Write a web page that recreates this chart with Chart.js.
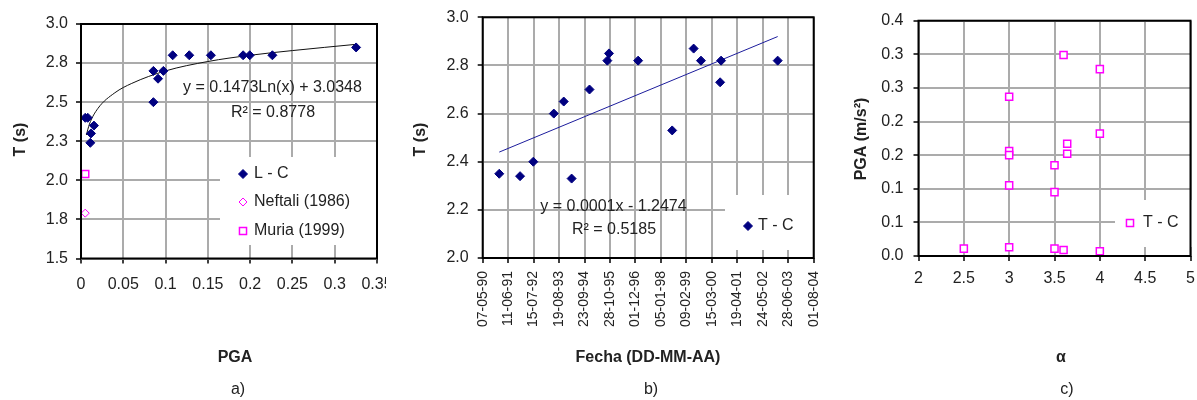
<!DOCTYPE html>
<html>
<head>
<meta charset="utf-8">
<script src="https://cdn.jsdelivr.net/npm/chart.js@4.4.1/dist/chart.umd.min.js"></script>
<style>
  html, body { margin: 0; padding: 0; background: #fff; }
  body { width: 1197px; height: 400px; position: relative; overflow: hidden; }
  canvas { position: absolute; top: 0; }
</style>
</head>
<body>
<canvas id="chartA" width="386" height="400" style="left:0"></canvas>
<canvas id="chartB" width="430" height="400" style="left:390px"></canvas>
<canvas id="chartC" width="377" height="400" style="left:820px"></canvas>
<script>
// a) T vs PGA
const pgaLC = [0.005, 0.008, 0.0153, 0.0118, 0.011, 0.0856, 0.0911, 0.0974, 0.0856, 0.1084, 0.128, 0.1536, 0.1917, 0.1995, 0.2263, 0.3253];
const tLC   = [2.40, 2.40, 2.35, 2.30, 2.24, 2.70, 2.65, 2.70, 2.50, 2.80, 2.80, 2.80, 2.80, 2.80, 2.80, 2.85];
const pgaNeftali = [0.005];
const tNeftali   = [1.79];
const pgaMuria = [0.005];
const tMuria   = [2.04];
// log trend line
const fitPga = [0.0063, 0.01, 0.02, 0.04, 0.06, 0.1, 0.15, 0.2, 0.25, 0.3253];
const fitT   = [2.29, 2.36, 2.46, 2.56, 2.62, 2.70, 2.76, 2.80, 2.83, 2.87];

// b) T vs fecha
const fechas = ['1991-01-22', '1991-12-15', '1992-07-10', '1993-05-28', '1993-10-31', '1994-03-04', '1994-12-10', '1995-09-16',
                '1995-10-12', '1997-01-12', '1998-07-01', '1999-06-03', '1999-09-26', '2000-07-23', '2000-08-07', '2003-01-13'];
const tTC    = [2.35, 2.34, 2.40, 2.60, 2.65, 2.33, 2.70, 2.82, 2.85, 2.82, 2.53, 2.87, 2.82, 2.73, 2.82, 2.82];
const trendFechas = ['1991-01-22', '2003-01-13'];
const trendT      = [2.44, 2.92];
const fechaMin = '1990-05-07', fechaMax = '2004-08-01';

// c) PGA vs alfa
const alfa  = [2.5, 3.0, 3.0, 3.0, 3.0, 3.0, 3.5, 3.5, 3.5, 3.6, 3.6, 3.64, 3.64, 4.0, 4.0, 4.0];
const pgaTC = [0.011, 0.237, 0.156, 0.150, 0.105, 0.013, 0.135, 0.095, 0.011, 0.299, 0.009, 0.167, 0.152, 0.278, 0.182, 0.007];

const navy = '#000080', magenta = '#ff00ff', ink = '#222';
const fam = 'Arial, "Liberation Sans", sans-serif';

const xy = (xs, ys) => xs.map((x, i) => ({x: x, y: ys[i]}));
const day = s => Date.UTC(+s.slice(0, 4), +s.slice(5, 7) - 1, +s.slice(8, 10)) / 864e5;
const pad2 = n => String(n).padStart(2, '0');
const fmtDay = v => { const d = new Date(v * 864e5); return pad2(d.getUTCDate()) + '-' + pad2(d.getUTCMonth() + 1) + '-' + pad2(d.getUTCFullYear() % 100); };
const oneDec = v => (Math.round(v * 10 + 1e-9) / 10).toFixed(1);

function marker(ctx, style, x, y, r, fill, stroke, lw) {
  ctx.beginPath();
  if (style === 'rectRot') {
    ctx.moveTo(x, y - r); ctx.lineTo(x + r, y); ctx.lineTo(x, y + r); ctx.lineTo(x - r, y); ctx.closePath();
  } else {
    const h = r * Math.SQRT1_2;
    ctx.rect(x - h, y - h, 2 * h, 2 * h);
  }
  ctx.fillStyle = fill; ctx.fill();
  ctx.lineWidth = lw; ctx.strokeStyle = stroke; ctx.stroke();
}

// legend box, frame and free texts (coordinates are page coordinates)
function extras(cfg) {
  return {
    id: 'extras',
    beforeDatasetsDraw(chart) {
      const ctx = chart.ctx, lg = cfg.legend, ox = cfg.ox;
      ctx.save();
      ctx.fillStyle = '#fff';
      ctx.fillRect(lg.x - ox, lg.y, lg.w, lg.h);
      ctx.font = '16px ' + fam;
      ctx.textBaseline = 'middle'; ctx.textAlign = 'left';
      lg.rows.forEach((ry, i) => {
        const ds = chart.data.datasets[i];
        marker(ctx, ds.pointStyle, lg.mx - ox, ry, ds.pointRadius, ds.backgroundColor, ds.borderColor, ds.borderWidth);
        ctx.fillStyle = ink;
        ctx.fillText(ds.label, lg.tx - ox, ry);
      });
      ctx.restore();
    },
    afterDraw(chart) {
      const ctx = chart.ctx, a = chart.chartArea, ox = cfg.ox;
      ctx.save();
      ctx.strokeStyle = '#000'; ctx.lineWidth = 2;
      ctx.strokeRect(a.left, a.top, a.right - a.left, a.bottom - a.top);
      cfg.texts.forEach(t => {
        ctx.save();
        ctx.translate(t.x - ox, t.y);
        if (t.rot) ctx.rotate(-Math.PI / 2);
        ctx.font = (t.bold ? 'bold ' : '') + (t.size || 16) + 'px ' + fam;
        ctx.fillStyle = ink; ctx.textAlign = 'center'; ctx.textBaseline = 'middle';
        ctx.fillText(t.text, 0, 0);
        ctx.restore();
      });
      ctx.restore();
    }
  };
}

const grid = { color: '#ababab', lineWidth: 2, tickColor: '#000', tickLength: 5, tickWidth: 1.5 };
const noPad = s => { s.paddingLeft = s.paddingRight = s.paddingTop = s.paddingBottom = 0; };

function options(box, xs, ys) {
  return {
    responsive: false, animation: false, events: [],
    layout: { padding: { left: 0, top: box.top, right: box.cw - box.right, bottom: 400 - box.bottom - 120 } },
    plugins: { legend: { display: false }, tooltip: { enabled: false } },
    scales: {
      x: Object.assign({ type: 'linear', position: 'bottom', grid: grid, border: { display: false },
        afterFit: s => { s.height = 120; noPad(s); } }, xs),
      y: Object.assign({ type: 'linear', position: 'left', grid: grid, border: { display: false },
        afterFit: s => { s.width = box.left; noPad(s); } }, ys)
    }
  };
}
const tickFont = { family: fam, size: 16 };

new Chart(document.getElementById('chartA'), {
  type: 'scatter',
  data: { datasets: [
    { label: 'L - C', data: xy(pgaLC, tLC), pointStyle: 'rectRot', pointRadius: 4.5, backgroundColor: navy, borderColor: navy, borderWidth: 1 },
    { label: 'Neftali (1986)', data: xy(pgaNeftali, tNeftali), pointStyle: 'rectRot', pointRadius: 4, backgroundColor: '#fff', borderColor: magenta, borderWidth: 1 },
    { label: 'Muria (1999)', data: xy(pgaMuria, tMuria), pointStyle: 'rect', pointRadius: 5, backgroundColor: '#fff', borderColor: magenta, borderWidth: 1.5 },
    { label: 'Logarítmica', data: xy(fitPga, fitT), showLine: true, pointRadius: 0, borderColor: '#111', borderWidth: 1, cubicInterpolationMode: 'monotone' }
  ]},
  options: options({ cw: 386, left: 81, top: 24, right: 377, bottom: 258.5 },
    { min: 0, max: 0.35, ticks: { stepSize: 0.05, autoSkip: false, maxRotation: 0, padding: 11, color: ink, font: tickFont,
        callback: v => String(+v.toFixed(2)) } },
    { min: 1.5, max: 3.0, ticks: { stepSize: 0.25, padding: 8, color: ink, font: tickFont, callback: oneDec } }),
  plugins: [extras({
    ox: 0,
    legend: { x: 220, y: 157, w: 158, h: 88, mx: 243, tx: 254, rows: [174, 202, 231] },
    texts: [
      { text: 'T (s)', x: 20.5, y: 139.5, rot: true, bold: true },
      { text: 'PGA', x: 235, y: 358, bold: true },
      { text: 'a)', x: 238, y: 390 },
      { text: 'y = 0.1473Ln(x) + 3.0348', x: 272.5, y: 88 },
      { text: 'R² = 0.8778', x: 273, y: 113 }
    ]
  })]
});

new Chart(document.getElementById('chartB'), {
  type: 'scatter',
  data: { datasets: [
    { label: 'T - C', data: xy(fechas.map(day), tTC), pointStyle: 'rectRot', pointRadius: 4.5, backgroundColor: navy, borderColor: navy, borderWidth: 1 },
    { label: 'Lineal', data: xy(trendFechas.map(day), trendT), showLine: true, pointRadius: 0, borderColor: '#1c1c9c', borderWidth: 1 }
  ]},
  options: options({ cw: 430, left: 92.7, top: 17.3, right: 423.7, bottom: 258 },
    { min: day(fechaMin), max: day(fechaMax), ticks: { stepSize: 400, autoSkip: false, minRotation: 90, maxRotation: 90, padding: 8,
        color: ink, font: { family: fam, size: 14 }, callback: fmtDay } },
    { min: 2.0, max: 3.0, ticks: { stepSize: 0.2, padding: 9, color: ink, font: tickFont, callback: oneDec } }),
  plugins: [extras({
    ox: 390,
    legend: { x: 725, y: 195, w: 89, h: 55, mx: 748, tx: 758, rows: [226] },
    texts: [
      { text: 'T (s)', x: 420.5, y: 139.5, rot: true, bold: true },
      { text: 'Fecha (DD-MM-AA)', x: 648, y: 358, bold: true },
      { text: 'b)', x: 651, y: 390 },
      { text: 'y = 0.0001x - 1.2474', x: 613.5, y: 207 },
      { text: 'R² = 0.5185', x: 614, y: 230 }
    ]
  })]
});

new Chart(document.getElementById('chartC'), {
  type: 'scatter',
  data: { datasets: [
    { label: 'T - C', data: xy(alfa, pgaTC), pointStyle: 'rect', pointRadius: 5, backgroundColor: '#fff', borderColor: magenta, borderWidth: 1.5 }
  ]},
  options: options({ cw: 377, left: 98.5, top: 20.7, right: 372.5, bottom: 256 },
    { min: 2, max: 5, ticks: { stepSize: 0.5, autoSkip: false, maxRotation: 0, padding: 8, color: ink, font: tickFont,
        callback: v => String(+v.toFixed(1)) } },
    { min: 0, max: 0.35, ticks: { stepSize: 0.05, padding: 10, color: ink, font: tickFont, callback: oneDec } }),
  plugins: [extras({
    ox: 820,
    legend: { x: 1115, y: 200, w: 78, h: 47, mx: 1130, tx: 1143, rows: [223] },
    texts: [
      { text: 'PGA (m/s²)', x: 861.5, y: 139, rot: true, bold: true },
      { text: 'α', x: 1061, y: 358, bold: true },
      { text: 'c)', x: 1067, y: 390 }
    ]
  })]
});
</script>
</body>
</html>
